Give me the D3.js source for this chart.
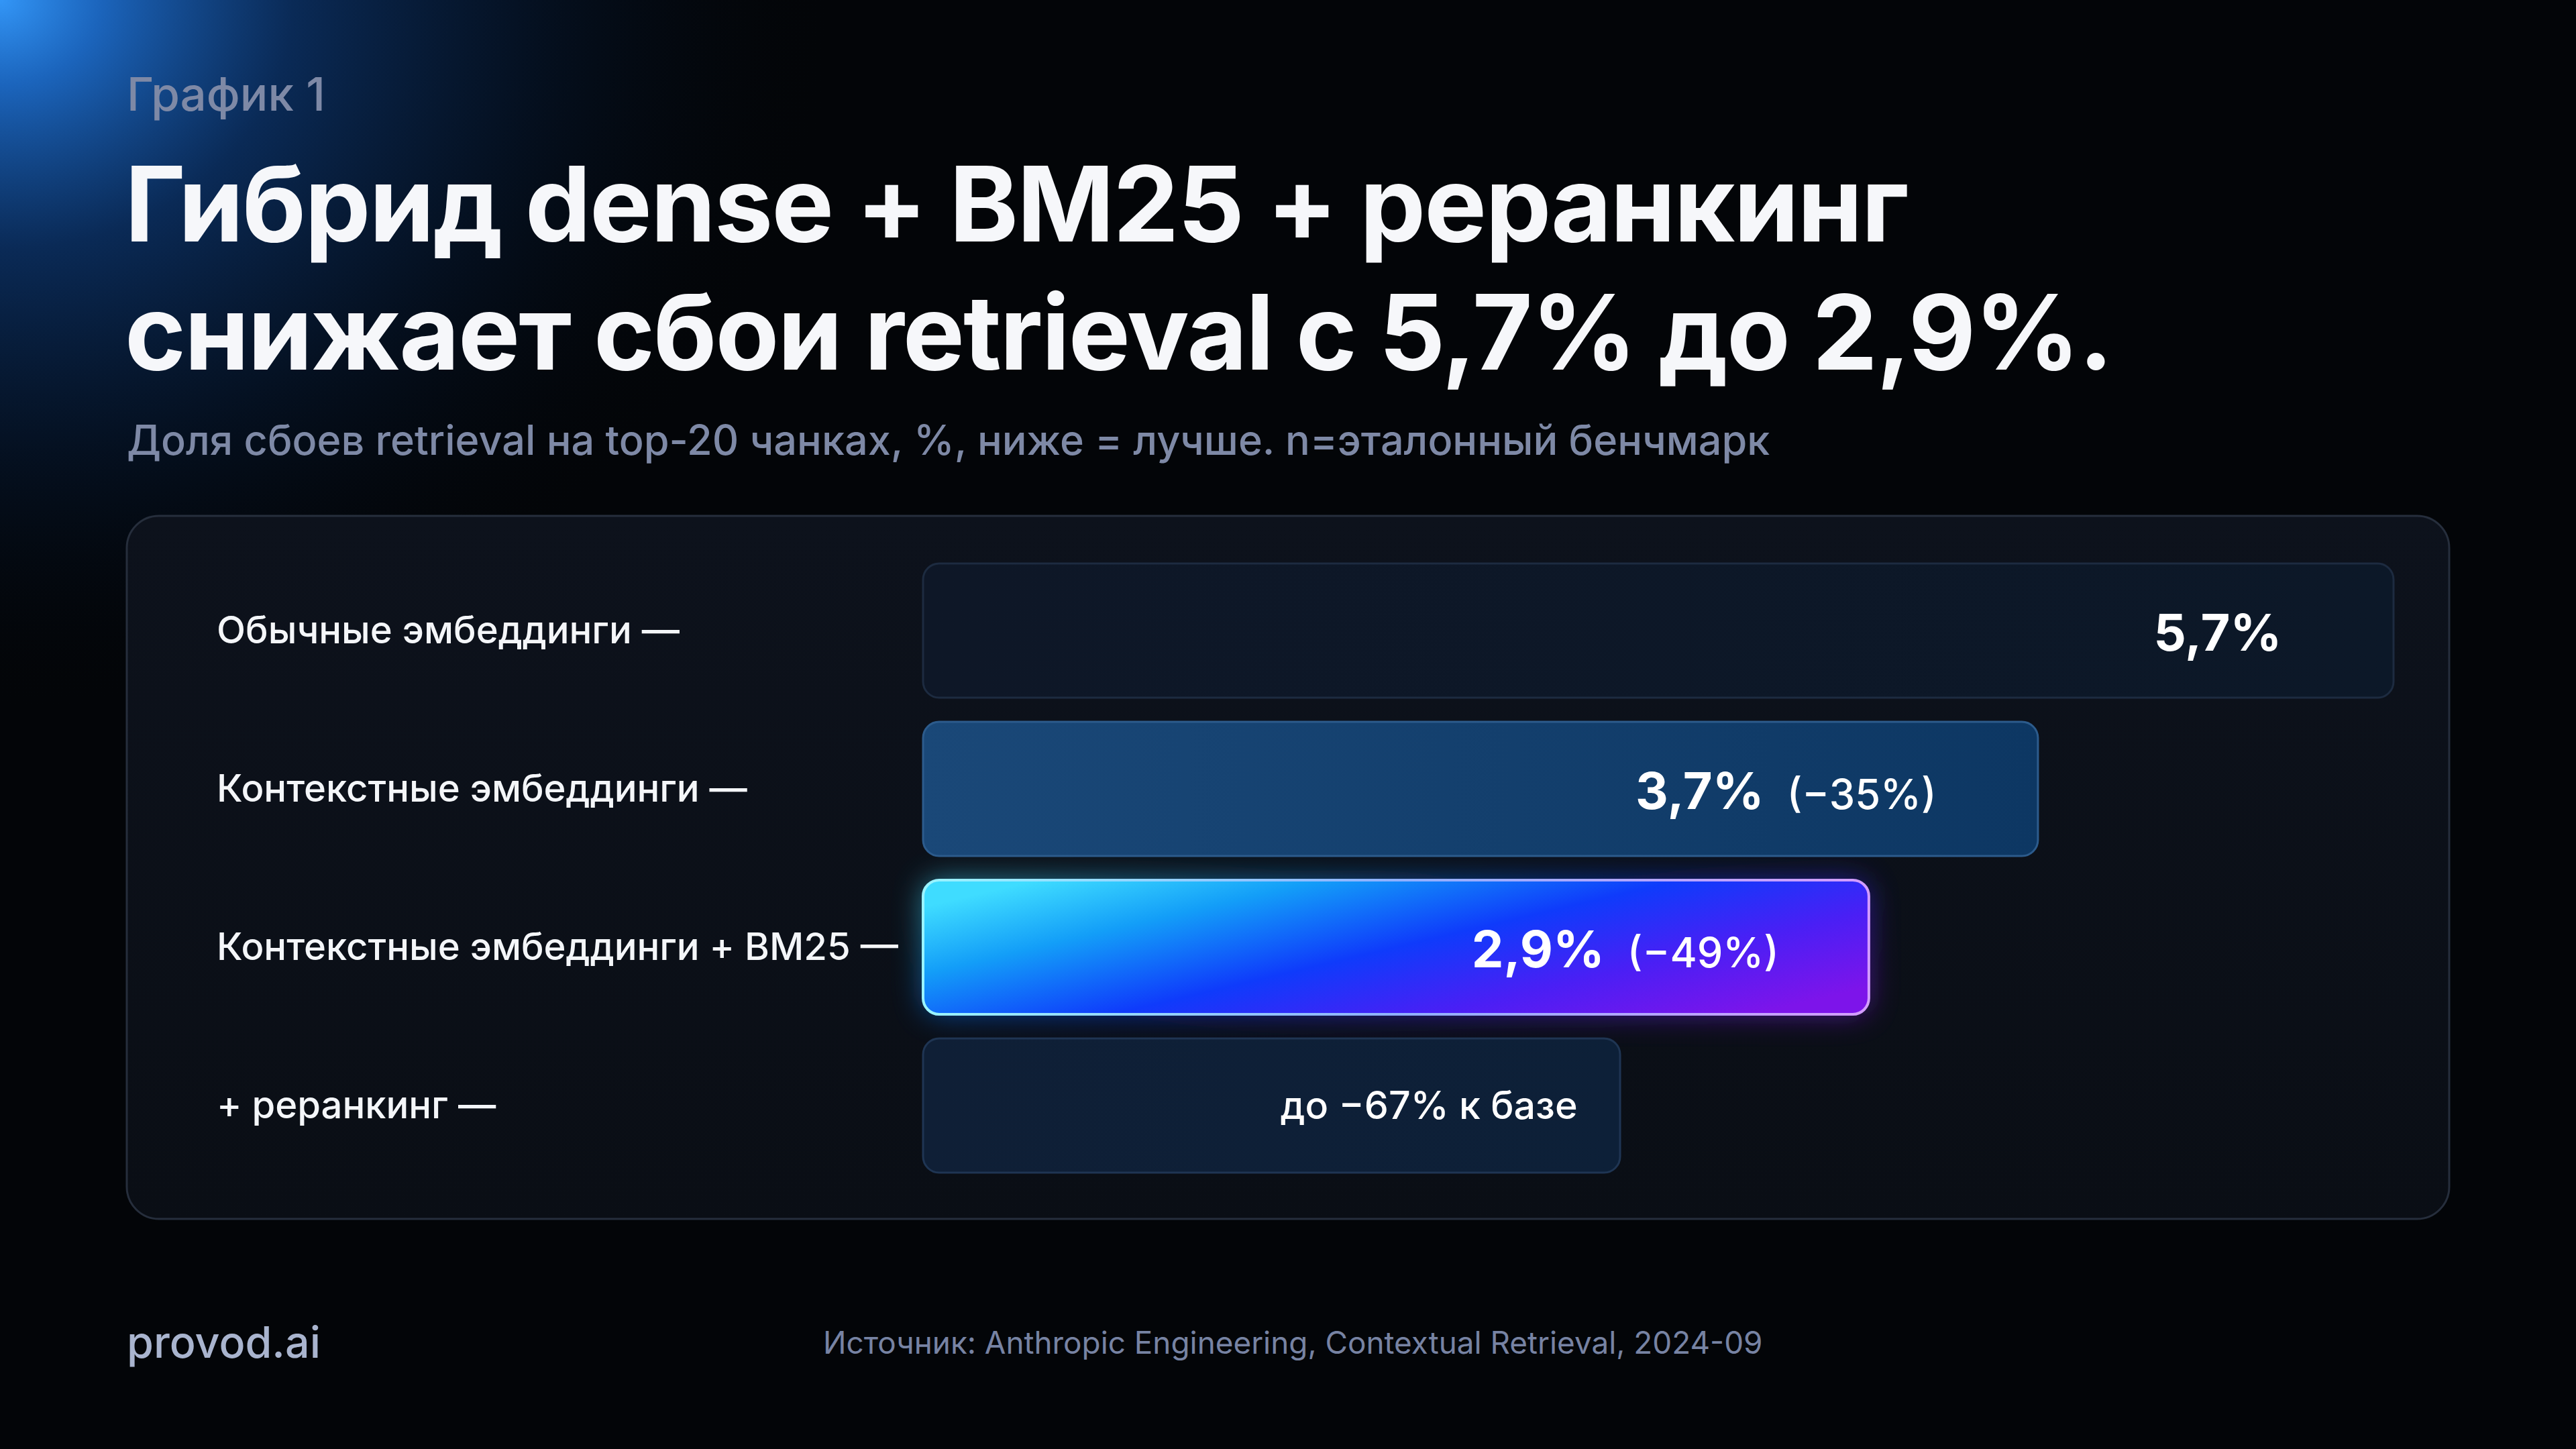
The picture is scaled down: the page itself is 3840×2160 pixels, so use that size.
<!DOCTYPE html>
<html><head><meta charset="utf-8">
<script src="https://cdn.jsdelivr.net/npm/d3@7"></script>
<style>html,body{margin:0;background:#030508;overflow:hidden} svg{display:block}</style>
</head><body>
<svg id="c" width="3840" height="2160"></svg>
<script>
// ---- data ----
const categories = ["Обычные эмбеддинги —", "Контекстные эмбеддинги —", "Контекстные эмбеддинги + BM25 —", "+ реранкинг —"];
const values = [5.7, 3.7, 2.9, 1.9];
const valueLabels = ["5,7%", "3,7%", "2,9%", ""];
const changeLabels = ["", "(−35%)", "(−49%)", ""];
const noteLabels = ["", "", "", "до −67% к базе"];
const kicker = "График 1";
const titleLines = ["Гибрид dense + BM25 + реранкинг", "снижает сбои retrieval с 5,7% до 2,9%."];
const subtitle = "Доля сбоев retrieval на top-20 чанках, %, ниже = лучше. n=эталонный бенчмарк";
const brand = "provod.ai";
const source = "Источник: Anthropic Engineering, Contextual Retrieval, 2024-09";

// ---- layout ----
const W = 3840, H = 2160;
const FONT = "Inter, 'Noto Sans', sans-serif";
const svg = d3.select("#c");
const defs = svg.append("defs");

function fit(sel, target) {
  const w = sel.node().getComputedTextLength();
  const fs = parseFloat(sel.attr("font-size"));
  sel.attr("font-size", fs * target / w);
  return fs * target / w;
}

// background
svg.append("rect").attr("width", W).attr("height", H).attr("fill", "#030508");
const bg = defs.append("radialGradient").attr("id", "glow").attr("gradientUnits", "userSpaceOnUse")
  .attr("cx", 0).attr("cy", 0).attr("r", 1250)
  .attr("gradientTransform", "scale(1,0.85)");
[[0, "#3396f7", 1], [0.12, "#1e6fd0", 0.9], [0.35, "#0d3a78", 0.7], [0.65, "#061a36", 0.5], [1, "#030508", 0]]
  .forEach(([o, c, op]) => bg.append("stop").attr("offset", o).attr("stop-color", c).attr("stop-opacity", op));
svg.append("rect").attr("width", W).attr("height", H).attr("fill", "url(#glow)");

// header
svg.append("text").text(kicker).attr("x", 189).attr("y", 165)
  .attr("font-family", FONT).attr("font-weight", 500).attr("font-size", 64).attr("fill", "#7e89a6")
  .call(s => fit(s, 296));
const t1 = svg.append("text").text(titleLines[0]).attr("x", 186).attr("y", 360)
  .attr("font-family", FONT).attr("font-weight", 700).attr("font-size", 150).attr("fill", "#f6f7fa")
  .attr("letter-spacing", -2);
fit(t1, 2655);
const t2 = svg.append("text").text(titleLines[1]).attr("x", 186).attr("y", 551)
  .attr("font-family", FONT).attr("font-weight", 700).attr("font-size", 150).attr("fill", "#f6f7fa")
  .attr("letter-spacing", -2);
fit(t2, 2960);
svg.append("text").text(subtitle).attr("x", 189).attr("y", 678)
  .attr("font-family", FONT).attr("font-weight", 500).attr("font-size", 58).attr("fill", "#7e89a6")
  .call(s => fit(s, 2450));

// panel
const pg = defs.append("linearGradient").attr("id", "panel").attr("x1", 0).attr("y1", 0).attr("x2", 0).attr("y2", 1);
pg.append("stop").attr("offset", 0).attr("stop-color", "#0d121c");
pg.append("stop").attr("offset", 1).attr("stop-color", "#0a0e15");
svg.append("rect").attr("x", 189).attr("y", 769).attr("width", 3651 - 189).attr("height", 1817 - 769)
  .attr("rx", 48).attr("fill", "url(#panel)").attr("stroke", "#262e3c").attr("stroke-width", 3);

// scales
const x0 = 1376;
const wScale = d3.scaleSqrt().domain([0.22, 5.7]).range([0, 2192]);
const y = d3.scaleBand().domain(categories).range([840, 1748]).paddingInner(0.1525).paddingOuter(0);
const labelFrac = [0.924, 0.909, 0.905, 0.939];

// bar styles
const g1 = defs.append("linearGradient").attr("id", "b1").attr("x1", 0).attr("x2", 1);
g1.append("stop").attr("offset", 0).attr("stop-color", "#0e1727");
g1.append("stop").attr("offset", 1).attr("stop-color", "#0c1828");
const g2 = defs.append("linearGradient").attr("id", "b2").attr("x1", 0).attr("x2", 1);
g2.append("stop").attr("offset", 0).attr("stop-color", "#1a4878");
g2.append("stop").attr("offset", 1).attr("stop-color", "#0d3763");
const g3 = defs.append("linearGradient").attr("id", "b3").attr("x1", 0).attr("y1", 0.2).attr("x2", 1).attr("y2", 0.8);
[[0, "#3fdcff"], [0.22, "#139ef8"], [0.5, "#0f3bfb"], [0.75, "#4a1ff5"], [1, "#7d14ea"]]
  .forEach(([o, c]) => g3.append("stop").attr("offset", o).attr("stop-color", c));
const g3s = defs.append("linearGradient").attr("id", "b3s").attr("x1", 0).attr("x2", 1);
[[0, "#9af4ff"], [0.5, "#8fb0ff"], [1, "#d49cff"]]
  .forEach(([o, c]) => g3s.append("stop").attr("offset", o).attr("stop-color", c));
const g4 = defs.append("linearGradient").attr("id", "b4").attr("x1", 0).attr("x2", 1);
g4.append("stop").attr("offset", 0).attr("stop-color", "#0f1f36");
g4.append("stop").attr("offset", 1).attr("stop-color", "#0d2038");
const fills = ["url(#b1)", "url(#b2)", "url(#b3)", "url(#b4)"];
const strokes = ["#1d2b40", "#2c5b8c", "url(#b3s)", "#1f3553"];
const blur = defs.append("filter").attr("id", "blur").attr("x", -0.2).attr("y", -0.5).attr("width", 1.4).attr("height", 2);
blur.append("feGaussianBlur").attr("stdDeviation", 22);

const bars = svg.append("g");
// glow for highlighted bar
bars.append("rect")
  .attr("x", x0).attr("y", y(categories[2]))
  .attr("width", wScale(values[2])).attr("height", y.bandwidth())
  .attr("rx", 24).attr("fill", "url(#b3)").attr("opacity", 0.55).attr("filter", "url(#blur)");

bars.selectAll("rect.bar").data(values).join("rect").attr("class", "bar")
  .attr("x", x0).attr("y", (d, i) => y(categories[i]))
  .attr("width", d => wScale(d)).attr("height", y.bandwidth())
  .attr("rx", 24).attr("fill", (d, i) => fills[i]).attr("stroke", (d, i) => strokes[i])
  .attr("stroke-width", (d, i) => i === 2 ? 4 : 3);

// category labels
const cl = svg.append("g").selectAll("text").data(categories).join("text")
  .text(d => d).attr("x", 323).attr("y", d => y(d) + y.bandwidth() / 2 + 19)
  .attr("font-family", FONT).attr("font-weight", 500).attr("font-size", 54).attr("fill", "#f4f6f9");
const cfs = fit(d3.select(cl.nodes()[0]), 690);
cl.attr("font-size", cfs);

// value labels
const vl = svg.append("g").selectAll("text").data(values).join("text")
  .attr("x", (d, i) => x0 + wScale(d) * labelFrac[i])
  .attr("y", (d, i) => y(categories[i]) + y.bandwidth() / 2 + (i === 3 ? 20 : 30))
  .attr("text-anchor", "end").attr("font-family", FONT).attr("fill", "#ffffff");
vl.each(function (d, i) {
  const t = d3.select(this);
  if (valueLabels[i]) t.append("tspan").attr("class", "v").text(valueLabels[i]).attr("font-weight", 700).attr("font-size", 84);
  if (changeLabels[i]) t.append("tspan").attr("class", "c").text(changeLabels[i]).attr("dx", 34).attr("font-weight", 500).attr("font-size", 64);
  if (noteLabels[i]) t.append("tspan").attr("class", "n").text(noteLabels[i]).attr("font-weight", 500).attr("font-size", 58);
});
// calibrate label sizes
(function () {
  const v0 = vl.filter((d, i) => i === 0).select("tspan.v");
  const vw = v0.node().getComputedTextLength();
  vl.selectAll("tspan.v").attr("font-size", 84 * 191 / vw);
  const c1 = vl.filter((d, i) => i === 1).select("tspan.c");
  const cw = c1.node().getComputedTextLength();
  vl.selectAll("tspan.c").attr("font-size", 64 * 223 / cw);
  const n3 = vl.filter((d, i) => i === 3).select("tspan.n");
  const nw = n3.node().getComputedTextLength();
  n3.attr("font-size", 58 * 443 / nw);
})();

// footer
svg.append("text").text(brand).attr("x", 189).attr("y", 2024)
  .attr("font-family", FONT).attr("font-weight", 500).attr("font-size", 62).attr("fill", "#a9b4ce")
  .call(s => fit(s, 289));
svg.append("text").text(source).attr("x", 1227).attr("y", 2018)
  .attr("font-family", FONT).attr("font-weight", 400).attr("font-size", 46).attr("fill", "#7783a3")
  .call(s => fit(s, 1401));
</script>
</body></html>
